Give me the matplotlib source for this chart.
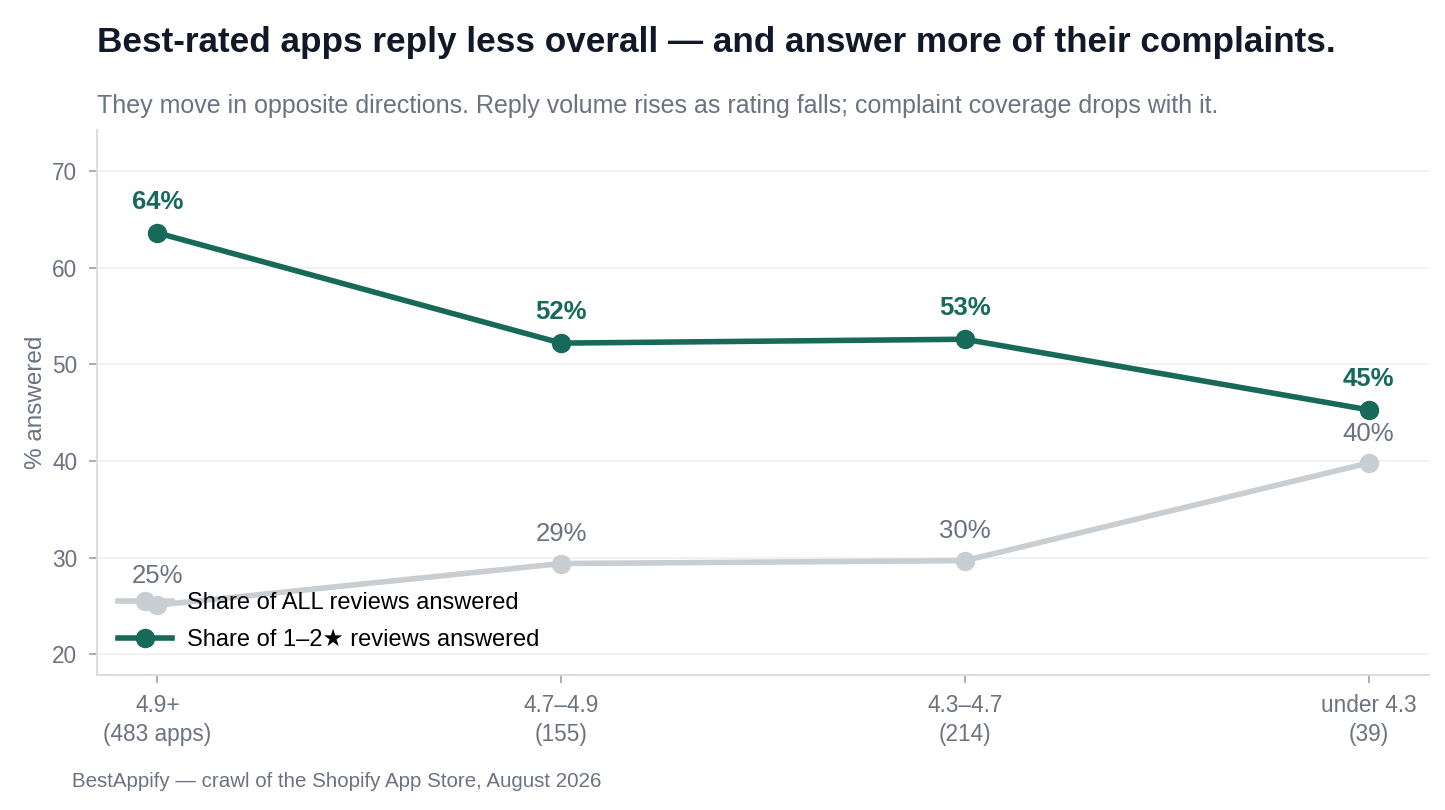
import matplotlib.pyplot as plt

plt.rcParams['font.family'] = ['Liberation Sans', 'DejaVu Sans']

# data
buckets = ["4.9+\n(483 apps)", "4.7\u20134.9\n(155)", "4.3\u20134.7\n(214)", "under 4.3\n(39)"]
all_answered = [25.1, 29.4, 29.7, 39.8]
neg_answered = [63.6, 52.2, 52.6, 45.3]
all_labels = ["25%", "29%", "30%", "40%"]
neg_labels = ["64%", "52%", "53%", "45%"]

GREEN = "#17695a"
GREY = "#c9ced3"
TXT = "#6b7280"


def main():
    fig = plt.figure(figsize=(14.45, 8.1), dpi=100)
    ax = fig.add_axes([0.067, 0.167, 0.922, 0.672])

    x = list(range(len(buckets)))
    ax.plot(x, all_answered, color=GREY, lw=4, marker="o", ms=13,
            label="Share of ALL reviews answered", zorder=3)
    ax.plot(x, neg_answered, color=GREEN, lw=4, marker="o", ms=13,
            label="Share of 1\u20132\u2605 reviews answered", zorder=4)

    for xi, v, t in zip(x, all_answered, all_labels):
        ax.annotate(t, (xi, v), xytext=(0, 21), textcoords="offset points",
                    ha="center", va="center", fontsize=18.5, color=TXT)
    for xi, v, t in zip(x, neg_answered, neg_labels):
        ax.annotate(t, (xi, v), xytext=(0, 22.5), textcoords="offset points",
                    ha="center", va="center", fontsize=18.5, color=GREEN,
                    fontweight="bold")

    ax.set_xlim(-0.15, 3.15)
    ax.set_ylim(17.9, 74.2)
    ax.set_yticks([20, 30, 40, 50, 60, 70])
    ax.set_xticks(x)
    ax.set_xticklabels(buckets)
    for lab in ax.get_xticklabels():
        lab.set_linespacing(1.35)
    ax.tick_params(colors=TXT, labelsize=16.3, length=6, color="#9ca3af", width=1.2, pad=8)
    ax.grid(axis="y", color="#eef0f3", lw=1.3)
    ax.set_axisbelow(True)
    for s in ["top", "right"]:
        ax.spines[s].set_visible(False)
    for s in ["left", "bottom"]:
        ax.spines[s].set_color("#dcdde3")
        ax.spines[s].set_linewidth(1.5)
    ax.set_ylabel("% answered", fontsize=17.5, color=TXT, labelpad=4)

    ax.legend(loc="lower left", bbox_to_anchor=(0.0, 0.004), frameon=False,
              fontsize=17, handlelength=2.3, handletextpad=0.6, labelspacing=0.65)

    fig.text(0.067, 0.947, "Best-rated apps reply less overall \u2014 and answer more of their complaints.",
             fontsize=25.3, fontweight="bold", color="#111827", va="center")
    fig.text(0.067, 0.869, "They move in opposite directions. Reply volume rises as rating falls; complaint coverage drops with it.",
             fontsize=18, color=TXT, va="center")
    fig.text(0.05, 0.035, "BestAppify \u2014 crawl of the Shopify App Store, August 2026",
             fontsize=14.8, color=TXT, va="center")

    plt.savefig("out.png")


if __name__ == "__main__":
    main()
